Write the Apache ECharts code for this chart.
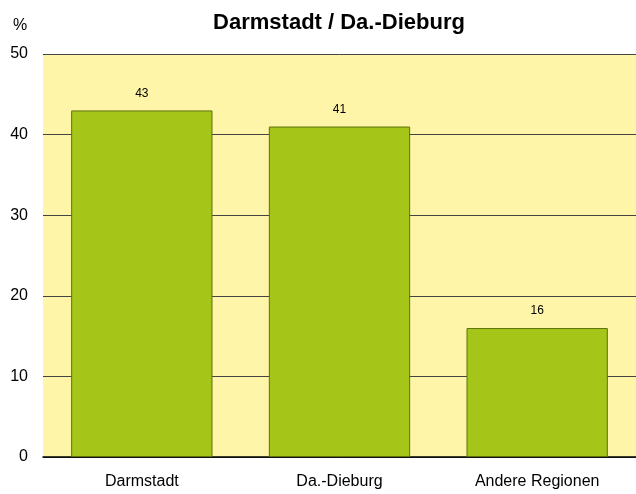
<!DOCTYPE html>
<html lang="de">
<head>
    <meta charset="UTF-8">
    <title>Darmstadt / Da.-Dieburg</title>
    <script src="https://cdn.jsdelivr.net/npm/echarts@6/dist/echarts.min.js"></script>
    <style>
        html, body { margin: 0; padding: 0; background: #fff; }
        #chart { width: 636px; height: 494px; }
    </style>
</head>
<body>
    <div id="chart"></div>
    <script>
        const categories = ['Darmstadt', 'Da.-Dieburg', 'Andere Regionen'];
        const values = [43, 41, 16];
        const yTicks = [0, 10, 20, 30, 40, 50];

        const font = 'Liberation Sans, Arial';
        const chart = echarts.init(document.getElementById('chart'));
        chart.setOption({
            animation: false,
            title: {
                text: 'Darmstadt / Da.-Dieburg',
                left: 334,
                textAlign: 'center',
                top: 7,
                textStyle: { fontFamily: font, fontSize: 22, fontWeight: 'bold', color: '#000' }
            },
            graphic: [{
                type: 'text',
                left: 13,
                top: 18,
                style: { text: '%', font: '16px ' + font, fill: '#000' }
            }],
            grid: { left: 43, right: -6, top: 54, bottom: 37, backgroundColor: '#fff5a8', show: true, borderWidth: 0 },
            xAxis: {
                type: 'category',
                data: categories,
                axisTick: { show: false },
                axisLine: { lineStyle: { color: '#000', width: 1.5 } },
                axisLabel: { color: '#000', fontSize: 16, fontFamily: font, margin: 17 }
            },
            yAxis: {
                type: 'value',
                min: yTicks[0],
                max: yTicks[yTicks.length - 1],
                interval: 10,
                axisLine: { show: false },
                axisTick: { show: false },
                axisLabel: { color: '#000', fontSize: 16, fontFamily: font, margin: 15 },
                splitLine: { lineStyle: { color: '#444', width: 1 } }
            },
            series: [{
                type: 'bar',
                data: values,
                barWidth: '71.5%',
                itemStyle: { color: '#a5c618', borderColor: '#5d7208', borderWidth: 1 },
                label: {
                    show: true,
                    position: 'top',
                    distance: 11,
                    color: '#000',
                    fontSize: 12,
                    fontFamily: font
                }
            }]
        });
    </script>
</body>
</html>
